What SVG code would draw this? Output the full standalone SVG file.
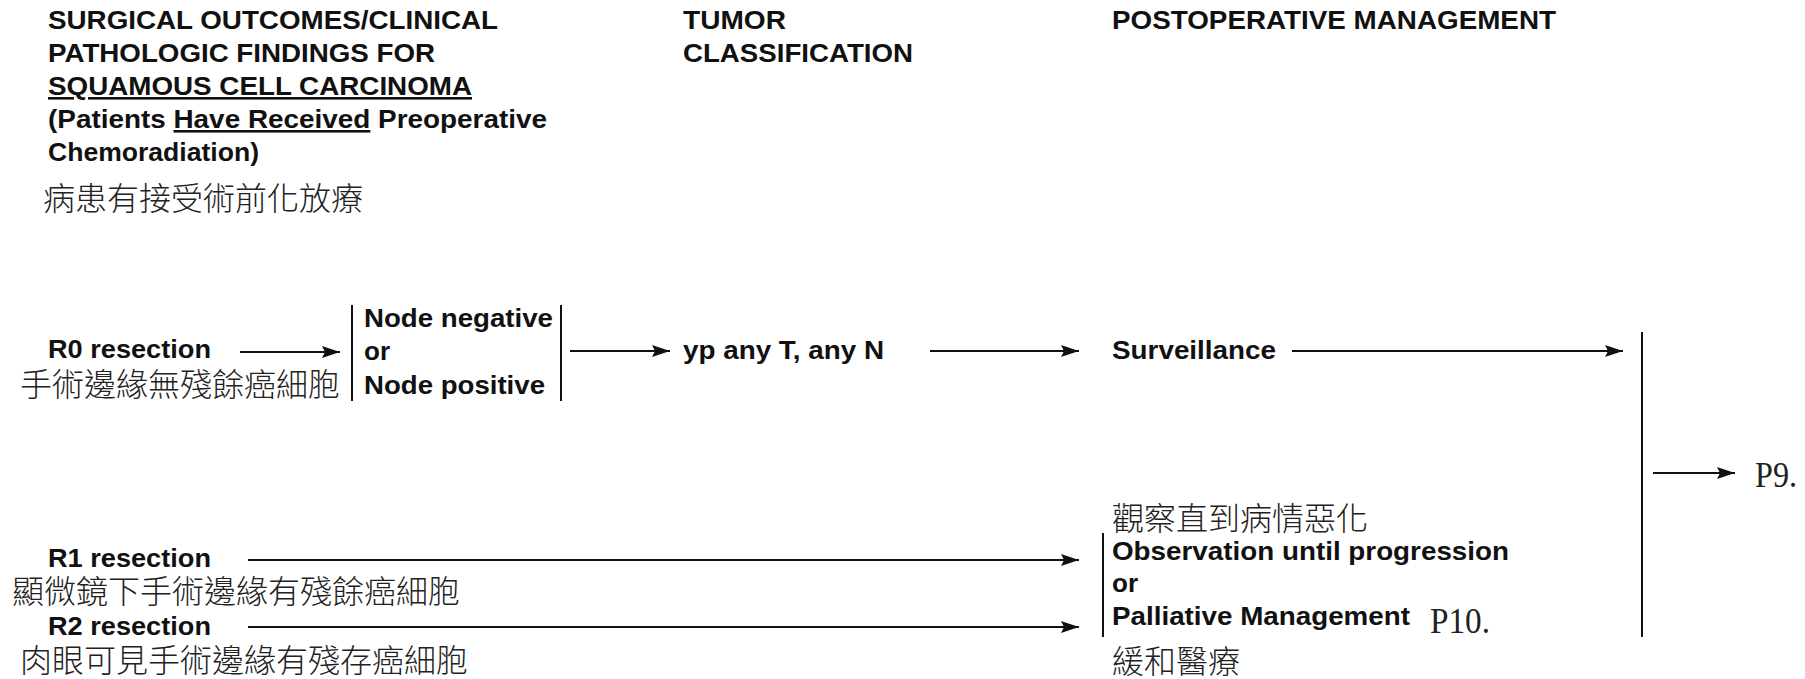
<svg xmlns="http://www.w3.org/2000/svg" width="1805" height="679" viewBox="0 0 1805 679">
<defs>
<style>
.b{font-family:"Liberation Sans",Arial,sans-serif;font-weight:bold;font-size:26px;fill:#111}
.cj{font-family:"Noto Sans CJK TC","Noto Sans CJK SC",sans-serif;font-weight:300;font-size:32px;fill:#222}
.sr{font-family:"Liberation Serif","Times New Roman",serif;font-size:35px;fill:#222}
.ln{stroke:#111;stroke-width:2;fill:none}
.u{text-decoration:underline}
</style>
<marker id="ah" markerUnits="userSpaceOnUse" markerWidth="19" markerHeight="12" refX="18" refY="6" orient="auto">
<path d="M0,0 L18,6 L0,12 L3,6 z" fill="#111"/>
</marker>
</defs>
<rect width="1805" height="679" fill="#fff"/>

<g id="header-surgical">
<text class="b" x="48" y="29" textLength="450" lengthAdjust="spacingAndGlyphs">SURGICAL OUTCOMES/CLINICAL</text>
<text class="b" x="48" y="62" textLength="387" lengthAdjust="spacingAndGlyphs">PATHOLOGIC FINDINGS FOR</text>
<text class="b u" x="48" y="95" textLength="424" lengthAdjust="spacingAndGlyphs">SQUAMOUS CELL CARCINOMA</text>
<text class="b" x="48" y="128" textLength="499" lengthAdjust="spacingAndGlyphs">(Patients <tspan class="u">Have Received</tspan> Preoperative</text>
<text class="b" x="48" y="161" textLength="211" lengthAdjust="spacingAndGlyphs">Chemoradiation)</text>
<text class="cj" x="43" y="210">病患有接受術前化放療</text>
</g>

<g id="header-tumor">
<text class="b" x="683" y="29" textLength="103" lengthAdjust="spacingAndGlyphs">TUMOR</text>
<text class="b" x="683" y="62" textLength="230" lengthAdjust="spacingAndGlyphs">CLASSIFICATION</text>
</g>

<g id="header-postop">
<text class="b" x="1112" y="29" textLength="444" lengthAdjust="spacingAndGlyphs">POSTOPERATIVE MANAGEMENT</text>
</g>

<g id="r0">
<text class="b" x="48" y="358" textLength="163" lengthAdjust="spacingAndGlyphs">R0 resection</text>
<text class="cj" x="20" y="396">手術邊緣無殘餘癌細胞</text>
</g>

<g id="node-status">
<line class="ln" x1="352" y1="305" x2="352" y2="401"/>
<line class="ln" x1="561" y1="305" x2="561" y2="401"/>
<text class="b" x="364" y="327" textLength="189" lengthAdjust="spacingAndGlyphs">Node negative</text>
<text class="b" x="364" y="360">or</text>
<text class="b" x="364" y="394" textLength="181" lengthAdjust="spacingAndGlyphs">Node positive</text>
</g>

<g id="yp">
<text class="b" x="683" y="359" textLength="201" lengthAdjust="spacingAndGlyphs">yp any T, any N</text>
</g>

<g id="surveillance">
<text class="b" x="1112" y="359" textLength="164" lengthAdjust="spacingAndGlyphs">Surveillance</text>
</g>

<g id="r1">
<text class="b" x="48" y="567" textLength="163" lengthAdjust="spacingAndGlyphs">R1 resection</text>
<text class="cj" x="12" y="603">顯微鏡下手術邊緣有殘餘癌細胞</text>
</g>

<g id="r2">
<text class="b" x="48" y="635" textLength="163" lengthAdjust="spacingAndGlyphs">R2 resection</text>
<text class="cj" x="20" y="672">肉眼可見手術邊緣有殘存癌細胞</text>
</g>

<g id="observation">
<text class="cj" x="1112" y="530">觀察直到病情惡化</text>
<line class="ln" x1="1103" y1="533" x2="1103" y2="637"/>
<text class="b" x="1112" y="560" textLength="397" lengthAdjust="spacingAndGlyphs">Observation until progression</text>
<text class="b" x="1112" y="592">or</text>
<text class="b" x="1112" y="625" textLength="298" lengthAdjust="spacingAndGlyphs">Palliative Management</text>
<text class="sr" x="1430" y="633" textLength="60" lengthAdjust="spacingAndGlyphs">P10.</text>
<text class="cj" x="1112" y="673">緩和醫療</text>
</g>

<g id="p9">
<text class="sr" x="1755" y="487" textLength="42" lengthAdjust="spacingAndGlyphs">P9.</text>
</g>

<g id="connectors">
<line class="ln" x1="240" y1="352" x2="340" y2="352" marker-end="url(#ah)"/>
<line class="ln" x1="570" y1="351" x2="670" y2="351" marker-end="url(#ah)"/>
<line class="ln" x1="930" y1="351" x2="1079" y2="351" marker-end="url(#ah)"/>
<line class="ln" x1="1292" y1="351" x2="1623" y2="351" marker-end="url(#ah)"/>
<line class="ln" x1="1642" y1="332" x2="1642" y2="637"/>
<line class="ln" x1="1653" y1="473" x2="1735" y2="473" marker-end="url(#ah)"/>
<line class="ln" x1="248" y1="560" x2="1079" y2="560" marker-end="url(#ah)"/>
<line class="ln" x1="248" y1="627" x2="1079" y2="627" marker-end="url(#ah)"/>
</g>
</svg>
